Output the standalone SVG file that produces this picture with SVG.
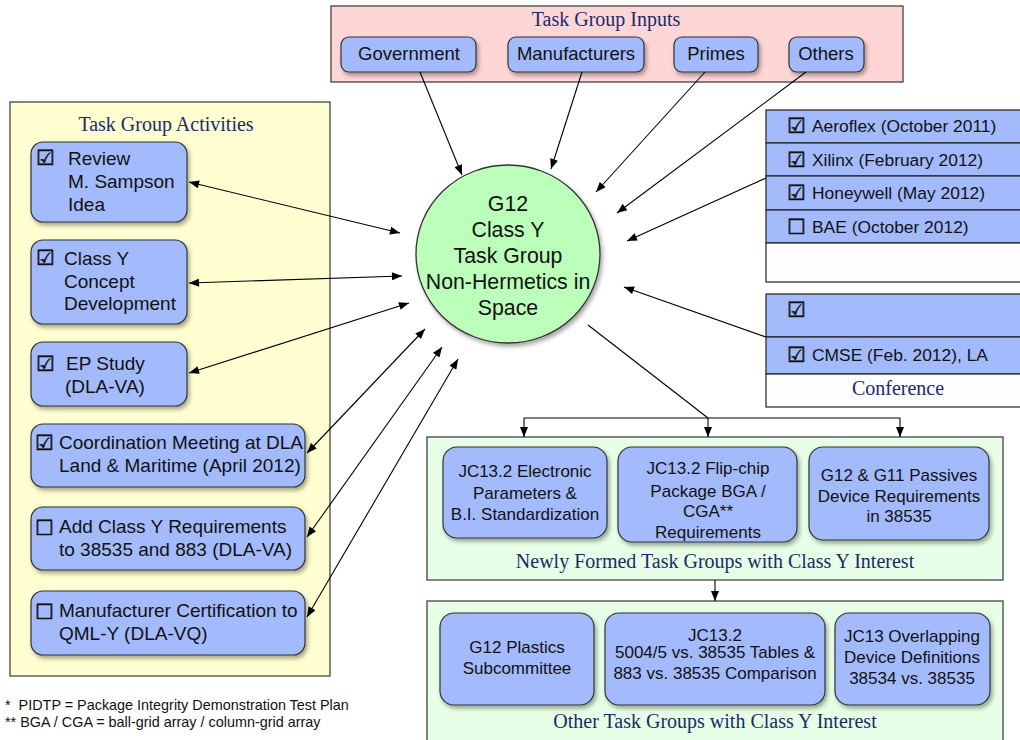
<svg xmlns="http://www.w3.org/2000/svg" width="1020" height="740" viewBox="0 0 1020 740">
<defs>
<marker id="ah" viewBox="0 0 10 8" refX="10" refY="4" markerWidth="11" markerHeight="8" markerUnits="userSpaceOnUse" orient="auto-start-reverse"><path d="M0,0 L10,4 L0,8 z" fill="#000"/></marker>
<filter id="sh" x="-10%" y="-10%" width="125%" height="130%"><feDropShadow dx="2" dy="3" stdDeviation="2" flood-color="#000" flood-opacity="0.35"/></filter>
</defs>
<style>
.panel{stroke:#444;stroke-width:1.3}
.box{fill:#a3bbfd;stroke:#333;stroke-width:1.2;filter:url(#sh)}
.t{font-family:"Liberation Sans",Arial,sans-serif;font-size:19px;fill:#111}
.s{font-family:"Liberation Sans",Arial,sans-serif;font-size:17.4px;fill:#111}
.c{font-family:"Liberation Sans",Arial,sans-serif;font-size:17px;fill:#111;text-anchor:middle}
.c18{font-family:"Liberation Sans",Arial,sans-serif;font-size:18.5px;fill:#111;text-anchor:middle}
.c20{font-family:"Liberation Sans",Arial,sans-serif;font-size:21.3px;fill:#111;text-anchor:middle}
.h{font-family:"Liberation Serif","Times New Roman",serif;font-size:20px;fill:#1a2a6c;text-anchor:middle}
.ck{font-family:"DejaVu Sans",sans-serif;font-size:21px;fill:#111;stroke:#111;stroke-width:0.5}
.row{fill:#a3bbfd;stroke:#222;stroke-width:1.2}
.wrow{fill:#fdfcff;stroke:#222;stroke-width:1.2}
.ln{stroke:#000;stroke-width:1.1;fill:none}
.fn{font-family:"Liberation Sans",Arial,sans-serif;font-size:14.4px;fill:#111}
</style>
<rect width="1020" height="740" fill="#fff"/>

<g id="inputs">
<rect class="panel" x="331" y="6" width="572" height="76" fill="#ffd6d6"/>
<text class="h" x="606" y="26">Task Group Inputs</text>
</g>
<g id="government"><rect class="box" x="341" y="37" width="135" height="35" rx="8"/><text class="c18" x="409" y="60">Government</text></g>
<g id="manufacturers"><rect class="box" x="508" y="37" width="136" height="35" rx="8"/><text class="c18" x="576" y="60">Manufacturers</text></g>
<g id="primes"><rect class="box" x="674" y="37" width="84" height="35" rx="8"/><text class="c18" x="716" y="60">Primes</text></g>
<g id="others"><rect class="box" x="789" y="37" width="75" height="35" rx="8"/><text class="c18" x="826" y="60">Others</text></g>

<g id="activities">
<rect class="panel" x="10" y="102" width="320" height="574" fill="#ffffd2"/>
<text class="h" x="166" y="131">Task Group Activities</text>
</g>
<g id="review"><rect class="box" x="31" y="142" width="156" height="80" rx="12"/>
<text class="ck" x="36" y="165">☑</text>
<text class="t" x="68" y="165">Review</text><text class="t" x="68" y="188">M. Sampson</text><text class="t" x="68" y="211">Idea</text></g>
<g id="classy"><rect class="box" x="31" y="240" width="156" height="84" rx="12"/>
<text class="ck" x="36" y="265">☑</text>
<text class="t" x="64" y="265">Class Y</text><text class="t" x="64" y="288">Concept</text><text class="t" x="64" y="310">Development</text></g>
<g id="epstudy"><rect class="box" x="31" y="342" width="156" height="64" rx="12"/>
<text class="ck" x="36" y="371">☑</text>
<text class="t" x="66" y="370">EP Study</text><text class="t" x="65" y="393">(DLA-VA)</text></g>
<g id="coordination"><rect class="box" x="31" y="424" width="274" height="63" rx="12"/>
<text class="ck" x="35" y="450">☑</text>
<text class="t" x="59" y="449">Coordination Meeting at DLA</text><text class="t" x="59" y="472">Land &amp; Maritime (April 2012)</text></g>
<g id="addclassy"><rect class="box" x="31" y="507" width="274" height="63" rx="12"/>
<text class="ck" x="35" y="535">☐</text>
<text class="t" x="59" y="533">Add Class Y Requirements</text><text class="t" x="59" y="556">to 38535 and 883 (DLA-VA)</text></g>
<g id="certification"><rect class="box" x="31" y="591" width="274" height="64" rx="12"/>
<text class="ck" x="35" y="619">☐</text>
<text class="t" x="59" y="617">Manufacturer Certification to</text><text class="t" x="59" y="640">QML-Y (DLA-VQ)</text></g>

<g id="center">
<ellipse cx="508" cy="254" rx="92" ry="89" fill="#bbffbb" stroke="#333" stroke-width="1.3" style="filter:url(#sh)"/>
<text x="508" y="211" class="c20">G12</text>
<text x="508" y="237" class="c20">Class Y</text>
<text x="508" y="263" class="c20">Task Group</text>
<text x="508" y="289" class="c20">Non-Hermetics in</text>
<text x="508" y="315" class="c20">Space</text>
</g>

<g id="audits">
<rect class="row" x="766" y="110" width="260" height="33"/>
<rect class="row" x="766" y="143" width="260" height="33"/>
<rect class="row" x="766" y="176" width="260" height="34"/>
<rect class="row" x="766" y="210" width="260" height="33"/>
<rect class="wrow" x="766" y="243" width="260" height="39"/>
<text class="ck" x="787" y="133">☑</text><text class="s" x="812" y="132">Aeroflex (October 2011)</text>
<text class="ck" x="787" y="167">☑</text><text class="s" x="812" y="166">Xilinx (February 2012)</text>
<text class="ck" x="787" y="200">☑</text><text class="s" x="812" y="199">Honeywell (May 2012)</text>
<text class="ck" x="787" y="234">☐</text><text class="s" x="812" y="233">BAE (October 2012)</text>
</g>
<g id="conference">
<rect class="row" x="766" y="294" width="260" height="43"/>
<rect class="row" x="766" y="337" width="260" height="37"/>
<rect class="wrow" x="766" y="374" width="260" height="33"/>
<text class="ck" x="787" y="317">☑</text>
<text class="ck" x="787" y="362">☑</text><text class="s" x="812" y="361">CMSE (Feb. 2012), LA</text>
<text class="h" x="898" y="395">Conference</text>
</g>

<g id="newly">
<rect class="panel" x="427" y="437" width="576" height="143" fill="#e6ffe6"/>
<text class="h" x="715" y="568">Newly Formed Task Groups with Class Y Interest</text>
</g>
<g id="jc132electronic"><rect class="box" x="443" y="447" width="164" height="91" rx="14"/>
<text class="c" x="525" y="477">JC13.2 Electronic</text><text class="c" x="525" y="499">Parameters &amp;</text><text class="c" x="525" y="520">B.I. Standardization</text></g>
<g id="jc132flipchip"><rect class="box" x="618" y="447" width="179" height="95" rx="14"/>
<text class="c" x="708" y="474">JC13.2 Flip-chip</text><text class="c" x="708" y="497">Package BGA /</text><text class="c" x="708" y="517">CGA**</text><text class="c" x="708" y="538">Requirements</text></g>
<g id="passives"><rect class="box" x="809" y="447" width="180" height="93" rx="14"/>
<text class="c" x="899" y="481">G12 &amp; G11 Passives</text><text class="c" x="899" y="502">Device Requirements</text><text class="c" x="899" y="522">in 38535</text></g>

<g id="other">
<rect class="panel" x="427" y="601" width="576" height="145" fill="#e6ffe6"/>
<text class="h" x="715" y="728">Other Task Groups with Class Y Interest</text>
</g>
<g id="plastics"><rect class="box" x="440" y="613" width="154" height="92" rx="14"/>
<text class="c" x="517" y="653">G12 Plastics</text><text class="c" x="517" y="674">Subcommittee</text></g>
<g id="jc132tables"><rect class="box" x="605" y="613" width="220" height="92" rx="14"/>
<text class="c" x="715" y="641">JC13.2</text><text class="c" x="715" y="658">5004/5 vs. 38535 Tables &amp;</text><text class="c" x="715" y="679">883 vs. 38535 Comparison</text></g>
<g id="jc13overlap"><rect class="box" x="835" y="613" width="155" height="92" rx="14"/>
<text class="c" x="912" y="642">JC13 Overlapping</text><text class="c" x="912" y="663">Device Definitions</text><text class="c" x="912" y="684">38534 vs. 38535</text></g>

<g id="connectors">
<line class="ln" x1="420" y1="72" x2="462" y2="175" marker-end="url(#ah)"/>
<line class="ln" x1="582" y1="72" x2="551" y2="169" marker-end="url(#ah)"/>
<line class="ln" x1="705" y1="72" x2="596" y2="192" marker-end="url(#ah)"/>
<line class="ln" x1="806" y1="72" x2="617" y2="213" marker-end="url(#ah)"/>
<line class="ln" x1="766" y1="178" x2="627" y2="241" marker-end="url(#ah)"/>
<line class="ln" x1="766" y1="337" x2="624" y2="287" marker-end="url(#ah)"/>
<line class="ln" x1="189" y1="182" x2="400" y2="233" marker-start="url(#ah)" marker-end="url(#ah)"/>
<line class="ln" x1="189" y1="283" x2="402" y2="276" marker-start="url(#ah)" marker-end="url(#ah)"/>
<line class="ln" x1="189" y1="373" x2="409" y2="303" marker-start="url(#ah)" marker-end="url(#ah)"/>
<line class="ln" x1="307" y1="453" x2="425" y2="329" marker-start="url(#ah)" marker-end="url(#ah)"/>
<line class="ln" x1="307" y1="537" x2="442" y2="347" marker-start="url(#ah)" marker-end="url(#ah)"/>
<line class="ln" x1="307" y1="617" x2="458" y2="359" marker-start="url(#ah)" marker-end="url(#ah)"/>
<polyline class="ln" points="588,325 708,418"/>
<line class="ln" x1="524" y1="418" x2="900" y2="418"/>
<line class="ln" x1="524" y1="418" x2="524" y2="437" marker-end="url(#ah)"/>
<line class="ln" x1="708" y1="418" x2="708" y2="437" marker-end="url(#ah)"/>
<line class="ln" x1="900" y1="418" x2="900" y2="437" marker-end="url(#ah)"/>
<line class="ln" x1="715" y1="580" x2="715" y2="601" marker-end="url(#ah)"/>
</g>

<g id="footnotes">
<text class="fn" x="5" y="710" xml:space="preserve">*  PIDTP = Package Integrity Demonstration Test Plan</text>
<text class="fn" x="5" y="727">** BGA / CGA = ball-grid array / column-grid array</text>
</g>
</svg>
